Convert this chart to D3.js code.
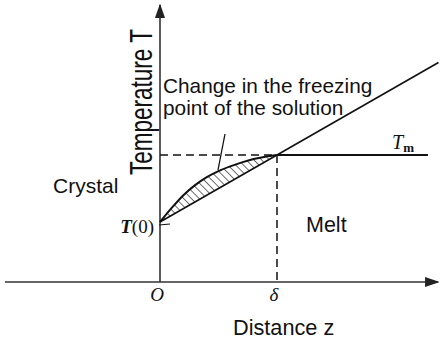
<!DOCTYPE html>
<html lang="en">
<head>
<meta charset="UTF-8">
<style>
  body { margin: 0; background: #fff; }
  text { font-family: "Liberation Sans", Arial, sans-serif; fill: #111; }
  .math { font-family: "Liberation Serif", "Times New Roman", serif; font-style: italic; }
</style>
</head>
<body>
<svg id="chart" width="443" height="344"></svg>
<script src="https://d3js.org/d3.v7.min.js"></script>
<script>
// distance z (delta = 1) and temperature T (T(0) = 0, Tm = 1)
var zCurve = [0, 0.1, 0.2, 0.3, 0.4, 0.5, 0.6, 0.7, 0.8, 0.9, 1.0];
var tCurve = [0, 0.21, 0.4, 0.55, 0.67, 0.76, 0.83, 0.89, 0.94, 0.975, 1.0];
var zLine = [0, 2.38];            // straight line T = z
var tLine = [0, 2.38];
var delta = 1, Tm = 1, zEnd = 2.29;
var xTicks = [{z: 0, label: "O"}, {z: delta, label: "\u03B4"}];

var svg = d3.select("#chart");

var x = d3.scaleLinear().domain([0, 1]).range([160, 277]);
var y = d3.scaleLinear().domain([0, 1]).range([222, 155]);
var axisY = 282;

var defs = svg.append("defs");
defs.append("marker")
  .attr("id", "arrow").attr("viewBox", "0 0 10 10")
  .attr("refX", 9).attr("refY", 5)
  .attr("markerWidth", 9).attr("markerHeight", 9)
  .attr("orient", "auto-start-reverse")
  .append("path").attr("d", "M0,1.5 L10,5 L0,8.5 Z").attr("fill", "#222");

// hatch pattern, lines running down to the right
defs.append("pattern")
  .attr("id", "hatch").attr("patternUnits", "userSpaceOnUse")
  .attr("width", 5.5).attr("height", 6)
  .attr("patternTransform", "rotate(-45)")
  .append("line")
  .attr("x1", 0).attr("y1", -1).attr("x2", 0).attr("y2", 7)
  .attr("stroke", "#222").attr("stroke-width", 1.3);

// axes
svg.append("line")
  .attr("x1", 5).attr("y1", axisY).attr("x2", 438).attr("y2", axisY)
  .attr("stroke", "#333").attr("stroke-width", 1.6)
  .attr("marker-end", "url(#arrow)");
svg.append("line")
  .attr("x1", x(0)).attr("y1", axisY).attr("x2", x(0)).attr("y2", 5)
  .attr("stroke", "#333").attr("stroke-width", 1.6)
  .attr("marker-end", "url(#arrow)");

var pts = zCurve.map(function(z, i) { return {z: z, t: tCurve[i]}; });

// hatched region between the straight line and the curve
svg.append("path")
  .datum(pts)
  .attr("d", d3.area()
    .x(function(d) { return x(d.z); })
    .y0(function(d) { return y(d.z); })
    .y1(function(d) { return y(d.t); })
    .curve(d3.curveMonotoneX))
  .attr("fill", "url(#hatch)");

// curve
svg.append("path")
  .datum(pts)
  .attr("d", d3.line()
    .x(function(d) { return x(d.z); })
    .y(function(d) { return y(d.t); })
    .curve(d3.curveMonotoneX))
  .attr("fill", "none").attr("stroke", "#111").attr("stroke-width", 2);

// straight line
svg.append("line")
  .attr("x1", x(zLine[0])).attr("y1", y(tLine[0]))
  .attr("x2", x(zLine[1])).attr("y2", y(tLine[1]))
  .attr("stroke", "#111").attr("stroke-width", 1.6);

// dashed guides
svg.append("line")
  .attr("x1", x(0)).attr("y1", y(Tm)).attr("x2", x(delta)).attr("y2", y(Tm))
  .attr("stroke", "#111").attr("stroke-width", 1.5).attr("stroke-dasharray", "8,5");
svg.append("line")
  .attr("x1", x(delta)).attr("y1", y(Tm)).attr("x2", x(delta)).attr("y2", axisY)
  .attr("stroke", "#111").attr("stroke-width", 1.5).attr("stroke-dasharray", "8,5");

// Tm line
svg.append("line")
  .attr("x1", x(delta)).attr("y1", y(Tm)).attr("x2", x(zEnd)).attr("y2", y(Tm))
  .attr("stroke", "#111").attr("stroke-width", 1.8);

// small tick at T(0)
svg.append("line")
  .attr("x1", x(0) - 1).attr("y1", y(0) + 3).attr("x2", x(0) + 10).attr("y2", y(0) + 2)
  .attr("stroke", "#111").attr("stroke-width", 1.2);

// leader line to hatched area
svg.append("line")
  .attr("x1", 225).attr("y1", 134).attr("x2", 218).attr("y2", 170)
  .attr("stroke", "#111").attr("stroke-width", 1.3);

// tick labels
svg.selectAll(".xt").data(xTicks).enter().append("text")
  .attr("class", "math")
  .attr("x", function(d) { return x(d.z) - 3; })
  .attr("y", 301)
  .attr("text-anchor", "middle")
  .attr("font-size", 19)
  .text(function(d) { return d.label; });

var t0 = svg.append("text").attr("class", "math").attr("x", 154).attr("y", 233)
  .attr("text-anchor", "end").attr("font-size", 19).attr("font-weight", "bold");
t0.append("tspan").text("T");
t0.append("tspan").attr("font-style", "normal").attr("font-weight", "normal").text("(0)");

var tm = svg.append("text").attr("class", "math").attr("x", 392).attr("y", 149)
  .attr("font-size", 20);
tm.append("tspan").text("T");
tm.append("tspan").attr("font-style", "normal").attr("font-weight", "bold")
  .attr("font-size", 13).attr("dy", 3).text("m");

// labels
svg.append("text")
  .attr("transform", "translate(152,102) rotate(-90) scale(1,1.4)")
  .attr("text-anchor", "middle").attr("font-size", 22.5)
  .text("Temperature T");
svg.append("text").attr("x", 163).attr("y", 93).attr("font-size", 20.8)
  .text("Change in the freezing");
svg.append("text").attr("x", 163).attr("y", 115).attr("font-size", 20.8)
  .text("point of the solution");
svg.append("text").attr("x", 53).attr("y", 193).attr("font-size", 21).text("Crystal");
svg.append("text").attr("x", 306).attr("y", 232).attr("font-size", 21.5).text("Melt");
svg.append("text").attr("x", 233).attr("y", 335).attr("font-size", 21.7).text("Distance z");
</script>
</body>
</html>
